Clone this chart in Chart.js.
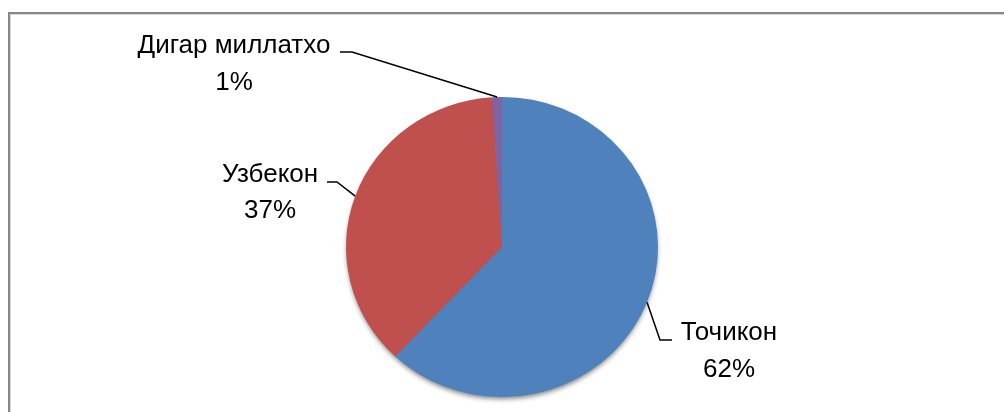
<!DOCTYPE html>
<html>
<head>
<meta charset="utf-8">
<script src="https://cdn.jsdelivr.net/npm/chart.js@4/dist/chart.umd.min.js"></script>
<style>
    html, body { margin: 0; padding: 0; background: #fff; }
    #wrap { position: relative; width: 1004px; height: 412px; overflow: hidden; }
    #frame {
        position: absolute; left: 8px; top: 12px; width: 1100px; height: 500px;
        border-top: 2px solid #878787; border-left: 2px solid #878787;
        box-shadow: inset 1px 1px 0 #d8d8d8;
    }
    canvas { position: absolute; left: 0; top: 0; }
</style>
</head>
<body>
<div id="wrap">
    <div id="frame"></div>
    <canvas id="pie" width="1004" height="412"></canvas>
</div>
<script>
// Chart data
const labels = ['Точикон', 'Узбекон', 'Дигар миллатхо'];
const values = [62, 37, 1];
const percentLabels = ['62%', '37%', '1%'];
const sliceColors = ['#4f81bd', '#c0504d', '#8064a2'];

// label layout: text centre x, baselines, leader elbow and end
const labelLayout = [
    { x: 729, y1: 340, y2: 377, elbow: [660, 340], end: [672, 340] },
    { x: 270, y1: 182, y2: 218, elbow: [337, 182], end: [327, 182] },
    { x: 234, y1: 53, y2: 90, elbow: [352, 52], end: [340, 52] }
];

const squash = 0.962; // the original pie is a bit flattened

const pieLabels = {
    id: 'pieLabels',
    beforeDatasetsDraw(chart) {
        const ctx = chart.ctx;
        const arc = chart.getDatasetMeta(0).data[0];
        ctx.save();
        ctx.translate(arc.x, arc.y);
        ctx.scale(1, squash);
        ctx.translate(-arc.x, -arc.y);
        // one shadow under the whole pie
        ctx.save();
        ctx.shadowColor = 'rgba(0, 0, 0, 0.5)';
        ctx.shadowBlur = 5;
        ctx.shadowOffsetY = 3;
        ctx.fillStyle = sliceColors[0];
        ctx.beginPath();
        ctx.arc(arc.x, arc.y, arc.outerRadius - 1, 0, Math.PI * 2);
        ctx.fill();
        ctx.restore();
    },
    afterDatasetsDraw(chart) {
        const ctx = chart.ctx;
        ctx.restore();
        const meta = chart.getDatasetMeta(0);
        ctx.save();
        ctx.font = '26px "Liberation Sans", Arial, sans-serif';
        ctx.fillStyle = '#000';
        ctx.textAlign = 'center';
        ctx.textBaseline = 'alphabetic';
        ctx.strokeStyle = '#000';
        ctx.lineWidth = 1.5;
        meta.data.forEach((arc, i) => {
            const mid = (arc.startAngle + arc.endAngle) / 2;
            const ax = arc.x + Math.cos(mid) * arc.outerRadius;
            const ay = arc.y + Math.sin(mid) * arc.outerRadius * squash;
            const lay = labelLayout[i];
            ctx.beginPath();
            ctx.moveTo(ax, ay);
            ctx.lineTo(lay.elbow[0], lay.elbow[1]);
            ctx.lineTo(lay.end[0], lay.end[1]);
            ctx.stroke();
            ctx.fillText(labels[i], lay.x, lay.y1);
            ctx.fillText(percentLabels[i], lay.x, lay.y2);
        });
        ctx.restore();
    }
};

new Chart(document.getElementById('pie'), {
    type: 'pie',
    data: {
        labels: labels,
        datasets: [{
            data: values,
            backgroundColor: sliceColors,
            borderWidth: 0
        }]
    },
    options: {
        responsive: false,
        devicePixelRatio: 1,
        animation: false,
        layout: { padding: { top: 91, bottom: 9 } },
        plugins: {
            legend: { display: false },
            tooltip: { enabled: false }
        }
    },
    plugins: [pieLabels]
});
</script>
</body>
</html>
